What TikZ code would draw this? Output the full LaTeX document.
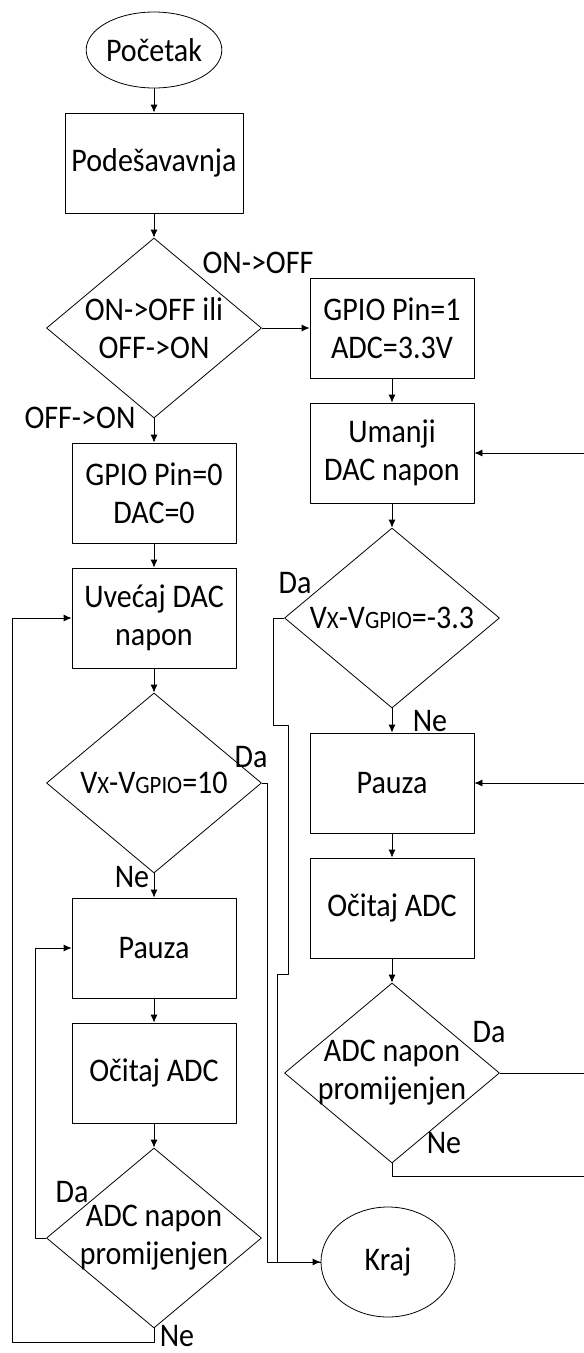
\documentclass[tikz,border=0pt]{standalone}
\usepackage{fontspec}
\setmainfont[FakeStretch=0.91]{Carlito}
\usetikzlibrary{shapes.geometric,arrows.meta}
\tikzset{
  blok/.style={draw, rectangle, minimum width=164pt, minimum height=100pt, inner sep=0pt, align=center},
  odluka/.style={draw, diamond, minimum width=215pt, minimum height=180pt, inner sep=0pt},
  krug/.style={draw, ellipse, minimum width=134pt, inner sep=0pt},
  tekst/.style={align=center, inner sep=0pt},
  strel/.style={-{Latex[length=8pt,width=7pt]}}
}
\newcommand{\malo}[1]{{\fontsize{25}{25}\selectfont #1}}
\begin{document}
\begin{tikzpicture}[x=1pt, y=-1pt, line width=0.8pt, line join=round, font=\fontsize{33}{38}\selectfont]
		\useasboundingbox (0,0) rectangle (584,1353);
		\clip (0,0) rectangle (584,1353);
		
		% 1. LIJEVA KOLONA
		\node[krug, minimum height=76pt] (pocetak) at (154,50) {Početak};
		\node[blok, minimum width=178pt] (podes) at (154,163) {Podešavavnja};
		\node[odluka] (izbor) at (154,328) {};
		\node[tekst] (izborT) at (izbor) {ON->OFF ili\\OFF->ON};
		\node[blok] (gpio0) at (154,493) {GPIO Pin=0\\DAC=0};
		\node[blok] (uvecaj) at (154,618) {Uvećaj DAC\\napon};
		\node[odluka] (uslL) at (154,783) {};
		\node[tekst] (uslLT) at (uslL) {V\malo{X}-V\malo{GPIO}=10};
		\node[blok] (pauzaL) at (154,948) {Pauza};
		\node[blok] (citajL) at (154,1073) {Očitaj ADC};
		\node[odluka] (promL) at (154,1238) {};
		\node[tekst] (promLT) at (promL) {ADC napon\\promijenjen};
		
		% 2. DESNA KOLONA
		\node[blok] (gpio1) at (392,328) {GPIO Pin=1\\ADC=3.3V};
		\node[blok] (umanji) at (392,453) {Umanji\\DAC napon};
		\node[odluka] (uslD) at (392,618) {};
		\node[tekst] (uslDT) at (uslD) {V\malo{X}-V\malo{GPIO}=-3.3};
		\node[blok] (pauzaD) at (392,783) {Pauza};
		\node[blok] (citajD) at (392,908) {Očitaj ADC};
		\node[odluka] (promD) at (392,1073) {};
		\node[tekst] (promDT) at (promD) {ADC napon\\promijenjen};
		\node[krug, minimum height=110pt] (kraj) at (388,1262) {Kraj};
		
		% 3. STRELICE
		\foreach \a/\b in {pocetak/podes, podes/izbor, izbor/gpio0, gpio0/uvecaj, uvecaj/uslL, uslL/pauzaL, pauzaL/citajL, citajL/promL, gpio1/umanji, umanji/uslD, uslD/pauzaD, pauzaD/citajD, citajD/promD}
			\draw[strel] (\a.south) -- (\b.north);
		\draw[strel] (izbor.east) -- (gpio1.west);
		
		% 4. PETLJE
		\draw[strel] (uslL.east) -- (267,783) |- (kraj.west);
		\draw (uslD.west) -| (273,725) -| (288,974) -| (277,1262) -- (kraj.west);
		\draw[strel] (promL.west) -- (35,1238) |- (pauzaL.west);
		\draw[strel] (promL.south) -- (154,1342) -| (12,618) -- (uvecaj.west);
		\draw[strel] (promD.east) -- (590,1073) |- (pauzaD.east);
		\draw[strel] (promD.south) -- (392,1176) -| (600,453) -- (umanji.east);
		
		% 5. OZNAKE
		\node (onoff) at (258,263) {ON->OFF};
		\node (offon) at (80,418) {OFF->ON};
		\foreach \t/\p [count=\i] in {Da/{(251,757)}, Ne/{(132,877)}, Da/{(295,583)}, Ne/{(430,721)}, Da/{(489,1032)}, Ne/{(444,1143)}, Da/{(72,1192)}, Ne/{(177,1336)}}
			\node (oznaka\i) at \p {\t};
	\end{tikzpicture}
\end{document}
